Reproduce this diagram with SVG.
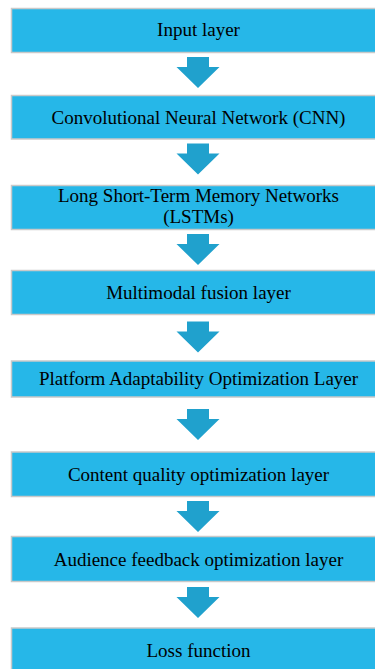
<svg xmlns="http://www.w3.org/2000/svg" width="375" height="669" viewBox="0 0 375 669">
<defs>
<style>
.box{fill:#26b7e8;stroke:#c9c9c9;stroke-width:1.5}
.lbl{font-family:"Liberation Serif","Times New Roman",serif;font-size:19px;fill:#000;text-anchor:middle}
.arr{fill:#20a1cd}
</style>
<path id="ar" class="arr" d="M-11,0 H11 V10 H21.5 L0,31 L-21.5,10 H-11 Z"/>
</defs>
<rect width="375" height="669" fill="#fff"/>
<g id="n1"><rect class="box" x="11.5" y="8.5" width="375" height="44"/><text class="lbl" x="198.5" y="36">Input layer</text></g>
<g id="n2"><rect class="box" x="11.5" y="95.5" width="375" height="43.5"/><text class="lbl" x="198.5" y="123.5">Convolutional Neural Network (CNN)</text></g>
<g id="n3"><rect class="box" x="11.5" y="185.5" width="375" height="44"/><text class="lbl" x="198.5" y="201.5">Long Short-Term Memory Networks</text><text class="lbl" x="198.5" y="223">(LSTMs)</text></g>
<g id="n4"><rect class="box" x="11.5" y="270.5" width="375" height="44"/><text class="lbl" x="198.5" y="298.5">Multimodal fusion layer</text></g>
<g id="n5"><rect class="box" x="11.5" y="361" width="375" height="36"/><text class="lbl" x="198.5" y="385">Platform Adaptability Optimization Layer</text></g>
<g id="n6"><rect class="box" x="11.5" y="452" width="375" height="44.5"/><text class="lbl" x="198.5" y="480.5">Content quality optimization layer</text></g>
<g id="n7"><rect class="box" x="11.5" y="536.5" width="375" height="45"/><text class="lbl" x="198.5" y="565.5">Audience feedback optimization layer</text></g>
<g id="n8"><rect class="box" x="11.5" y="628" width="375" height="50"/><text class="lbl" x="198.5" y="657">Loss function</text></g>
<g id="connectors">
<use href="#ar" x="198" y="57"/>
<use href="#ar" x="198" y="143.5"/>
<use href="#ar" x="198" y="234"/>
<use href="#ar" x="198" y="321.5"/>
<use href="#ar" x="198" y="409"/>
<use href="#ar" x="198" y="501"/>
<use href="#ar" x="198" y="587"/>
</g>
</svg>
